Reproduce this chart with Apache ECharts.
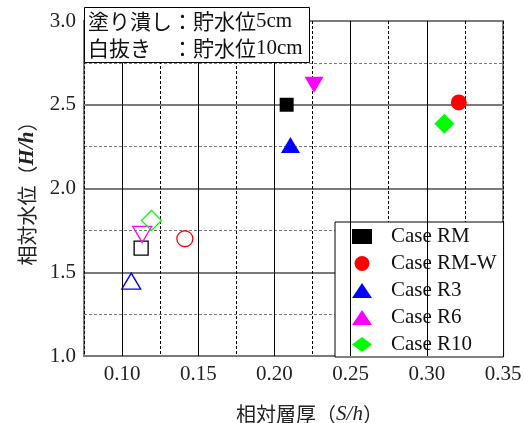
<!DOCTYPE html>
<html>
<head>
<meta charset="utf-8">
<script src="https://cdn.jsdelivr.net/npm/echarts@6/dist/echarts.min.js"></script>
<style>
  html, body { margin: 0; padding: 0; background: #fff; }
  #chart { width: 524px; height: 423px; }
</style>
</head>
<body>
<div id="chart"></div>
<script>
// 凡例の名前
var caseNames = ['Case RM', 'Case RM-W', 'Case R3', 'Case R6', 'Case R10'];
// 塗り潰し：貯水位5cm  [S/h, H/h]
var water5 = [[0.208, 2.50], [0.321, 2.514], [0.2105, 2.26], [0.226, 2.62], [0.3115, 2.387]];
// 白抜き：貯水位10cm
var water10 = [[0.1125, 1.644], [0.1412, 1.70], [0.106, 1.447], [0.1132, 1.726], [0.1193, 1.809]];
// 実線のx格子線
var xMajor = [0.10, 0.15, 0.20, 0.25, 0.30];

var colors = ['#000000', '#ff0000', '#0000ff', '#ff00ff', '#00ff00'];
var symbols = ['rect', 'circle', 'triangle', 'triangle', 'diamond'];
var sizes = [14, 16, [19, 16], [19, 16], 20];
var rotates = [0, 0, 0, 180, 0];

var serif = '"Liberation Serif", "DejaVu Serif", serif';
var cjk = '"Noto Sans CJK JP", sans-serif';

var chart = echarts.init(document.getElementById('chart'));

var series = caseNames.map(function (name, i) {
    return {
        name: name,
        type: 'scatter',
        symbol: symbols[i],
        symbolSize: sizes[i],
        symbolRotate: rotates[i],
        itemStyle: { color: colors[i], opacity: 1 },
        data: [
            { value: water5[i] },
            { value: water10[i], itemStyle: { color: 'transparent', borderColor: colors[i], borderWidth: 1.3 } }
        ],
        z: 3
    };
});

// 実線の格子線（markLine）
series.push({
    type: 'scatter',
    data: [],
    silent: true,
    z: 1,
    markLine: {
        silent: true,
        symbol: 'none',
        label: { show: false },
        animation: false,
        lineStyle: { color: '#000', width: 1, type: 'solid' },
        data: xMajor.map(function (v) { return { xAxis: v }; })
    }
});

var option = {
    animation: false,
    backgroundColor: '#fff',
    title: {
        left: 84,
        top: 7,
        padding: [1, 7, 1, 4],
        backgroundColor: '#fff',
        borderColor: '#000',
        borderWidth: 1,
        text: '{j|塗り潰し：貯水位}{s|5cm}\n{j|白抜き　：貯水位}{s|10cm}',
        textStyle: {
            fontWeight: 'normal',
            lineHeight: 27,
            rich: {
                j: { fontFamily: cjk, fontSize: 21, color: '#111', lineHeight: 27 },
                s: { fontFamily: serif, fontSize: 21, color: '#111', lineHeight: 27 }
            }
        }
    },
    legend: {
        data: caseNames,
        orient: 'vertical',
        left: 335,
        top: 222,
        padding: [4, 7, 2, 17],
        itemGap: 6,
        itemWidth: 20,
        itemHeight: 15,
        backgroundColor: '#fff',
        borderColor: '#000',
        borderWidth: 1,
        textStyle: { fontFamily: serif, fontSize: 21, color: '#111', lineHeight: 21, padding: [0, 0, 0, 14] }
    },
    grid: {
        left: 84,
        right: 21,
        top: 21,
        bottom: 67,
        outerBoundsMode: 'none',
        containLabel: false,
        show: true,
        borderColor: '#7a7a7a',
        borderWidth: 2,
        backgroundColor: 'transparent'
    },
    xAxis: {
        type: 'value',
        min: 0.075,
        max: 0.35,
        interval: 0.025,
        name: '{j|相対層厚（}{s|S/h}{j|）}',
        nameLocation: 'middle',
        nameGap: 48,
        nameTextStyle: {
            padding: [0, 0, 0, 32],
            rich: {
                j: { fontFamily: cjk, fontSize: 20, color: '#222' },
                s: { fontFamily: serif, fontSize: 21, fontStyle: 'italic', color: '#222' }
            }
        },
        axisLine: { show: false },
        axisTick: { show: false },
        axisLabel: {
            margin: 8,
            fontFamily: serif,
            fontSize: 21,
            color: '#222',
            formatter: function (v) {
                var k = Math.round(v * 1000);
                return (k % 50 === 0) ? v.toFixed(2) : '';
            }
        },
        splitLine: { show: true, lineStyle: { color: '#000', width: 1, type: [3, 2] } }
    },
    yAxis: {
        type: 'value',
        min: 1.0,
        max: 3.0,
        interval: 0.5,
        name: '{j|相対水位（}{s|H/h}{j|）}',
        nameLocation: 'middle',
        nameRotate: 90,
        nameGap: 46,
        nameTextStyle: {
            padding: [0, 0, 0, 0],
            rich: {
                j: { fontFamily: cjk, fontSize: 20, color: '#222' },
                s: { fontFamily: serif, fontSize: 21, fontStyle: 'italic', fontWeight: 'bold', color: '#222' }
            }
        },
        axisLine: { show: false },
        axisTick: { show: false },
        axisLabel: {
            margin: 8,
            fontFamily: serif,
            fontSize: 21,
            color: '#222',
            formatter: function (v) { return v.toFixed(1); }
        },
        splitLine: { show: true, lineStyle: { color: '#7a7a7a', width: 2, type: 'solid' } },
        minorTick: { show: false, splitNumber: 2 },
        minorSplitLine: { show: true, lineStyle: { color: '#7a7a7a', width: 1, type: [3, 2] } }
    },
    series: series
};

chart.setOption(option);
</script>
</body>
</html>
